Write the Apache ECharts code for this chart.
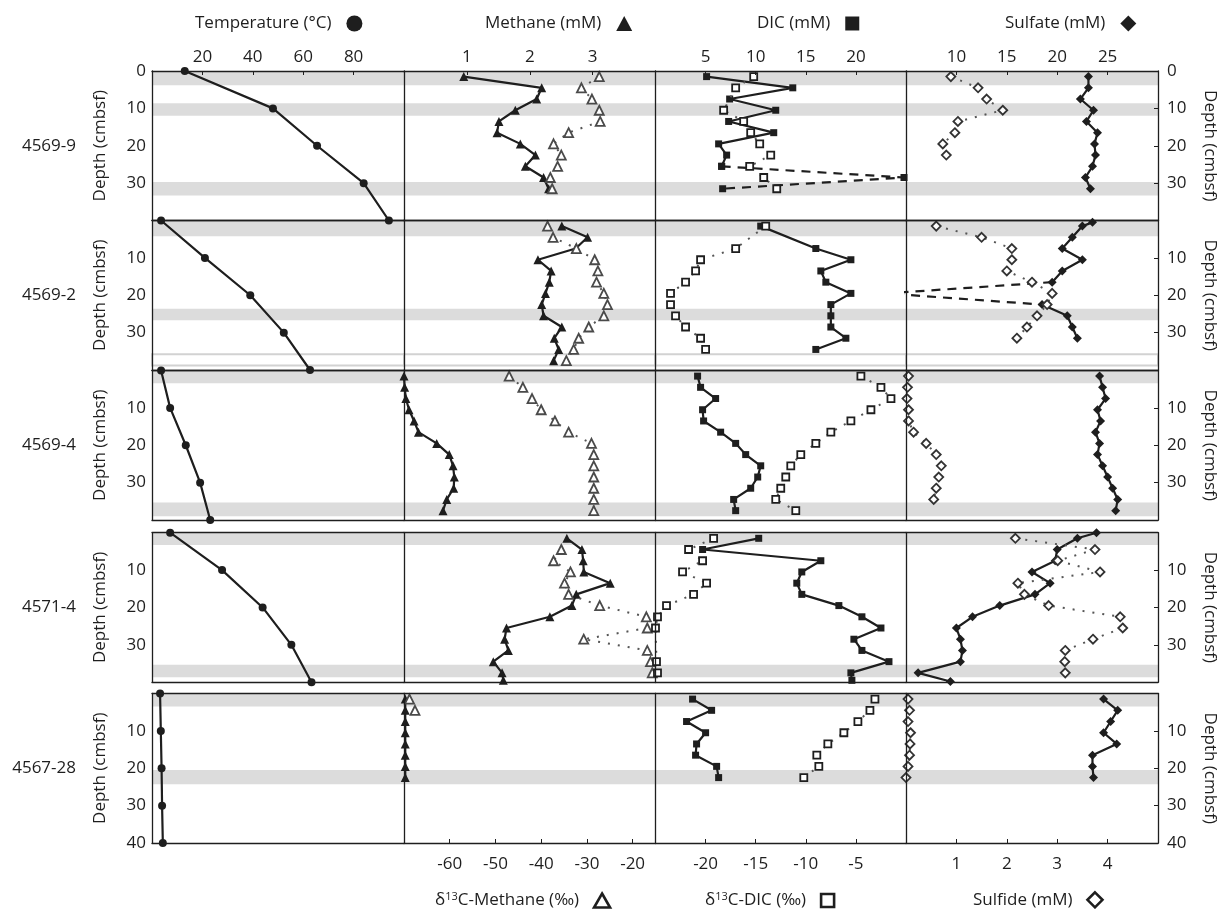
<!DOCTYPE html>
<html>
<head>
<meta charset="utf-8">
<script src="https://cdn.jsdelivr.net/npm/echarts@6/dist/echarts.min.js"></script>
<style>
  html, body { margin: 0; padding: 0; background: #fff; }
  #chart { width: 1225px; height: 909px; }
</style>
</head>
<body>
<div id="chart"></div>
<script>
// Push-core porewater profiles: each row is one core, each column one analyte.
// All profiles are [value, depth (cmbsf)] pairs.
const cores = ['4569-9', '4569-2', '4569-4', '4571-4', '4567-28'];

// Temperature (°C)
const temp_4569_9  = [[13, 0], [48, 10], [65.5, 20], [84, 30], [94, 40]];
const temp_4569_2  = [[3.6, 0], [21, 10], [39, 20], [52.3, 30], [62.7, 40]];
const temp_4569_4  = [[3.6, 0], [7.2, 10], [13.4, 20], [19.1, 30], [23.1, 40]];
const temp_4571_4  = [[7.2, 0], [27.8, 10], [43.9, 20], [55.3, 30], [63.3, 40]];
const temp_4567_28 = [[3.2, 0], [3.5, 10], [3.8, 20], [4.0, 30], [4.3, 40]];

// Methane (mM)
const ch4_4569_9  = [[0.95, 1.5], [2.19, 4.5], [2.11, 7.5], [1.77, 10.5], [1.51, 13.5], [1.48, 16.5], [1.85, 19.5], [2.09, 22.5], [1.93, 25.5], [2.22, 28.5], [2.30, 31.5]];
const ch4_4569_2  = [[2.51, 1.5], [2.92, 4.5], [2.73, 7.5], [2.13, 10.5], [2.34, 13.5], [2.31, 16.5], [2.25, 19.5], [2.19, 22.5], [2.22, 25.5], [2.51, 28.5], [2.39, 31.5], [2.46, 34.5], [2.38, 37.5]];
const ch4_4569_4  = [[0.0, 1.5], [0.01, 4.5], [0.03, 7.5], [0.08, 10.5], [0.16, 13.5], [0.23, 16.5], [0.52, 19.5], [0.72, 22.5], [0.78, 25.5], [0.80, 28.5], [0.79, 31.5], [0.68, 34.5], [0.62, 37.5]];
const ch4_4571_4  = [[2.59, 1.5], [2.83, 4.5], [2.85, 7.5], [2.86, 10.5], [3.28, 13.5], [2.74, 16.5], [2.67, 19.5], [2.32, 22.5], [1.63, 25.5], [1.60, 28.5], [1.66, 31.5], [1.42, 34.5], [1.56, 37.5], [1.58, 39.5]];
const ch4_4567_28 = [[0.02, 1.5], [0.02, 4.5], [0.02, 7.5], [0.02, 10.5], [0.02, 13.5], [0.02, 16.5], [0.02, 19.5], [0.02, 22.5]];

// δ13C-Methane (‰)
const d13ch4_4569_9  = [[-27.3, 1.5], [-31.2, 4.5], [-28.9, 7.5], [-27.3, 10.5], [-27.1, 13.5], [-34.0, 16.5], [-37.3, 19.5], [-35.6, 22.5], [-36.4, 25.5], [-38.0, 28.5], [-37.6, 31.5]];
const d13ch4_4569_2  = [[-38.6, 1.5], [-37.4, 4.5], [-32.3, 7.5], [-28.3, 10.5], [-27.6, 13.5], [-27.9, 16.5], [-26.3, 19.5], [-25.5, 22.5], [-26.3, 25.5], [-29.6, 28.5], [-31.8, 31.5], [-32.9, 34.5], [-34.5, 37.5]];
const d13ch4_4569_4  = [[-47, 1.5], [-44, 4.5], [-42, 7.5], [-40, 10.5], [-37, 13.5], [-34, 16.5], [-29, 19.5], [-28.5, 22.5], [-28.5, 25.5], [-28.5, 28.5], [-28.5, 31.5], [-28.5, 34.5], [-28.5, 37.5]];
const d13ch4_4571_4  = [[-35.6, 4.5], [-37.3, 7.5], [-33.6, 10.5], [-34.9, 13.5], [-34.0, 16.5], [-27.2, 19.5], [-17.0, 22.5], [-16.8, 25.5], [-30.7, 28.5], [-16.8, 31.5], [-16.1, 34.5], [-15.7, 37.5]];
const d13ch4_4567_28 = [[-68.8, 1.5], [-67.6, 4.5]];

// DIC (mM)
const dic_4569_9  = [[5.1, 1.5], [13.7, 4.5], [7.4, 7.5], [12.0, 10.5], [7.3, 13.5], [11.8, 16.5], [6.3, 19.5], [7.1, 22.5], [6.6, 25.5]];
const dic_4569_9_spike = [[6.6, 25.5], [24.8, 28.5], [6.7, 31.5]];
const dic_4569_2  = [[10.5, 1.5], [16, 7.5], [19.5, 10.5], [16.5, 13.5], [17, 16.5], [19.5, 19.5], [17.5, 22.5], [17.5, 25.5], [17.5, 28.5], [19, 31.5], [16, 34.5]];
const dic_4569_4  = [[4.2, 1.5], [4.5, 4.5], [6, 7.5], [4.7, 10.5], [4.8, 13.5], [6.5, 16.5], [8, 19.5], [9, 22.5], [10.5, 25.5], [10.2, 28.5], [9.5, 31.5], [7.8, 34.5], [8, 37.5]];
const dic_4571_4  = [[10.3, 1.5], [4.7, 4.5], [16.5, 7.5], [14.6, 10.5], [14.1, 13.5], [14.6, 16.5], [18.3, 19.5], [20.6, 22.5], [22.5, 25.5], [19.8, 28.5], [20.6, 31.5], [23.3, 34.5], [19.5, 37.5], [19.6, 39.5]];
const dic_4567_28 = [[3.7, 1.5], [5.6, 4.5], [3.1, 7.5], [5.0, 10.5], [4.1, 13.5], [4.0, 16.5], [6.1, 19.5], [6.3, 22.5]];

// δ13C-DIC (‰)
const d13dic_4569_9  = [[-15.2, 1.5], [-17.0, 4.5], [-18.2, 10.5], [-16.2, 13.5], [-15.5, 16.5], [-14.6, 19.5], [-13.5, 22.5], [-15.6, 25.5], [-14.2, 28.5], [-12.9, 31.5]];
const d13dic_4569_2  = [[-14, 1.5], [-17, 7.5], [-20.5, 10.5], [-21, 13.5], [-22, 16.5], [-23.5, 19.5], [-23.5, 22.5], [-23, 25.5], [-22, 28.5], [-20.5, 31.5], [-20, 34.5]];
const d13dic_4569_4  = [[-4.5, 1.5], [-2.5, 4.5], [-1.5, 7.5], [-3.5, 10.5], [-5.5, 13.5], [-7.5, 16.5], [-9, 19.5], [-10.5, 22.5], [-11.5, 25.5], [-12, 28.5], [-12.5, 31.5], [-13, 34.5], [-11, 37.5]];
const d13dic_4571_4  = [[-19.2, 1.5], [-21.7, 4.5], [-20.3, 7.5], [-22.3, 10.5], [-19.9, 13.5], [-21.2, 16.5], [-23.9, 19.5], [-24.8, 22.5], [-25.0, 25.5], [-24.9, 34.5], [-24.8, 37.5]];
const d13dic_4567_28 = [[-3.1, 1.5], [-3.6, 4.5], [-4.8, 7.5], [-6.2, 10.5], [-7.8, 13.5], [-8.9, 16.5], [-8.7, 19.5], [-10.2, 22.5]];

// Sulfate (mM)
const so4_4569_9  = [[23.1, 1.5], [23.1, 4.5], [22.3, 7.5], [23.6, 10.5], [22.9, 13.5], [24.0, 16.5], [23.7, 19.5], [23.8, 22.5], [23.5, 25.5], [22.8, 28.5], [23.3, 31.5]];
const so4_4569_2  = [[23.5, 0.5], [22.5, 1.5], [21.5, 4.5], [20.5, 7.5], [22.5, 10.5], [20.5, 13.5], [19.5, 16.5]];
const so4_4569_2_drop = [[19.5, 16.5], [3, 19.5], [18.5, 22.5]];
const so4_4569_2_deep = [[18.5, 22.5], [21, 25.5], [21.5, 28.5], [22, 31.5]];
const so4_4569_4  = [[24.2, 1.5], [24.5, 4.5], [24.8, 7.5], [24, 10.5], [24.3, 13.5], [23.8, 16.5], [24.2, 19.5], [24, 22.5], [24.5, 25.5], [25, 28.5], [25.5, 31.5], [26, 34.5], [25.8, 37.5]];
const so4_4571_4  = [[23.9, 0], [22.0, 1.5], [20.0, 4.5], [19.8, 7.5], [17.5, 10.5], [19.3, 13.5], [17.8, 16.5], [14.3, 19.5], [11.6, 22.5], [10.0, 25.5], [10.4, 28.5], [10.6, 31.5], [10.4, 34.5], [6.2, 37.5], [9.4, 39.8]];
const so4_4567_28 = [[24.6, 1.5], [26.0, 4.5], [25.3, 7.5], [24.6, 10.5], [25.9, 13.5], [23.5, 16.5], [23.5, 19.5], [23.6, 22.5]];

// Sulfide (mM)
const hs_4569_9  = [[0.89, 1.5], [1.43, 4.5], [1.60, 7.5], [1.92, 10.5], [1.03, 13.5], [0.97, 16.5], [0.73, 19.5], [0.80, 22.5]];
const hs_4569_2  = [[0.6, 1.5], [1.5, 4.5], [2.1, 7.5], [2.1, 10.5], [2.0, 13.5], [2.5, 16.5], [2.9, 19.5], [2.8, 22.5], [2.6, 25.5], [2.4, 28.5], [2.2, 31.5]];
const hs_4569_4  = [[0.05, 1.5], [0.03, 4.5], [0.02, 7.5], [0.05, 10.5], [0.05, 13.5], [0.15, 16.5], [0.4, 19.5], [0.6, 22.5], [0.7, 25.5], [0.65, 28.5], [0.6, 31.5], [0.55, 34.5]];
const hs_4571_4  = [[2.17, 1.5], [3.75, 4.5], [3.01, 7.5], [3.85, 10.5], [2.22, 13.5], [2.35, 16.5], [2.83, 19.5], [4.25, 22.5], [4.30, 25.5], [3.71, 28.5], [3.16, 31.5], [3.15, 34.5], [3.16, 37.5]];
const hs_4567_28 = [[0.04, 1.5], [0.07, 4.5], [0.04, 7.5], [0.09, 10.5], [0.08, 13.5], [0.07, 16.5], [0.04, 19.5], [0.0, 22.5]];

// Shaded depth intervals per core; the hollow one is drawn as an outlined box
const bands = [
  [[0, 3.8], [8.6, 12], [29.7, 33.3]],
  [[0, 4.2], [23.6, 26.7]],
  [[0, 3.4], [35.3, 39]],
  [[0, 3.3], [35.3, 38.7]],
  [[0, 3.5], [20.5, 24.3]]
];
const hollowBands = [[], [[35.8, 38.8]], [], [], []];

// ---------- layout ----------
const rowTop = [71, 220.5, 370.5, 532.7, 693.5];
const rowH = 149.5;
const colEdge = [152, 404, 655.5, 906, 1158];

const FONT = 'Open Sans';
const INK = '#1e1e1e';
const FS = 17;

// top (solid profile) and bottom (open-symbol profile) scales per column
const colScales = [
  { top: { min: 0, max: 100, interval: 20 }, bottom: { min: 0, max: 100, interval: 20 } },
  { top: { min: 0, max: 4, interval: 1 },    bottom: { min: -70, max: -15, interval: 10 } },
  { top: { min: 0, max: 25, interval: 5 },   bottom: { min: -25, max: 0, interval: 5 } },
  { top: { min: 5, max: 30, interval: 5 },   bottom: { min: 0, max: 5, interval: 1 } }
];

const names = {
  temp: 'Temperature (°C)', ch4: 'Methane (mM)', dic: 'DIC (mM)', so4: 'Sulfate (mM)',
  d13ch4: 'δ13C-Methane (‰)', d13dic: 'δ13C-DIC (‰)', hs: 'Sulfide (mM)'
};

const grid = [], xAxis = [], yAxis = [], series = [];
const gIdx = (r, c) => r * 4 + c;

for (let r = 0; r < 5; r++) {
  for (let c = 0; c < 4; c++) {
    const g = gIdx(r, c);
    grid.push({
      left: colEdge[c], top: rowTop[r],
      width: colEdge[c + 1] - colEdge[c], height: rowH,
      containLabel: false, show: false
    });
    const mk = (pos, sc, showLab) => ({
      type: 'value', gridIndex: g, position: pos,
      min: sc.min, max: sc.max, interval: sc.interval, z: 10,
      axisLine: { show: true, onZero: false, lineStyle: { color: INK, width: 1.3 } },
      axisTick: { show: showLab, inside: true, length: 4, lineStyle: { color: INK, width: 1 } },
      axisLabel: { show: showLab, showMinLabel: false, showMaxLabel: false,
                   margin: pos === 'top' ? 5 : 13,
                   color: INK, fontFamily: FONT, fontSize: FS },
      splitLine: { show: false }
    });
    // the temperature column has no lower scale
    xAxis.push(mk('top', colScales[c].top, r === 0));
    xAxis.push(mk('bottom', colScales[c].bottom, r === 4 && c > 0));

    yAxis.push({
      type: 'value', gridIndex: g, position: 'left', inverse: true,
      min: 0, max: 40, interval: 10, z: 10,
      axisLine: { show: true, onZero: false, lineStyle: { color: INK, width: 1.3 } },
      axisTick: { show: false },
      axisLabel: { show: c === 0, showMinLabel: r === 0, showMaxLabel: r === 4, margin: 6,
                   color: INK, fontFamily: FONT, fontSize: FS },
      splitLine: { show: false },
      name: c === 0 ? 'Depth (cmbsf)' : '', nameLocation: 'middle', nameGap: 43, nameRotate: 90,
      nameTextStyle: { color: INK, fontFamily: FONT, fontSize: FS }
    });

    // shaded intervals
    const areas = bands[r].map(b => [{ yAxis: b[0] }, { yAxis: b[1] }]);
    hollowBands[r].forEach(b => areas.push([
      { yAxis: b[0], itemStyle: { color: '#ffffff', borderColor: '#d2d2d2', borderWidth: 2 } },
      { yAxis: b[1] }
    ]));
    series.push({
      type: 'line', xAxisIndex: g * 2, yAxisIndex: g, data: [], silent: true, z: 1,
      markArea: { silent: true, itemStyle: { color: '#dcdcdc' }, data: areas }
    });
  }
}
// right-hand depth axes on the last column (appended after the 20 left axes)
for (let r = 0; r < 5; r++) {
  yAxis.push({
    type: 'value', gridIndex: gIdx(r, 3), position: 'right', inverse: true,
    min: 0, max: 40, interval: 10, z: 10,
    axisLine: { show: true, onZero: false, lineStyle: { color: INK, width: 1.3 } },
    axisTick: { show: true, inside: true, length: 4, lineStyle: { color: INK } },
    axisLabel: { show: true, showMinLabel: r === 0, showMaxLabel: r === 4, margin: 9,
                 color: INK, fontFamily: FONT, fontSize: FS },
    splitLine: { show: false },
    name: 'Depth (cmbsf)', nameLocation: 'middle', nameGap: 43, nameRotate: -90,
    nameTextStyle: { color: INK, fontFamily: FONT, fontSize: FS }
  });
}

function solid(r, c, name, data, symbol, size, dashed) {
  const g = gIdx(r, c);
  series.push({
    type: 'line', name, xAxisIndex: g * 2, yAxisIndex: g, data, z: 3,
    symbol, symbolSize: size, showSymbol: true, clip: true, animation: false,
    itemStyle: { color: INK },
    lineStyle: { color: INK, width: 2.2, type: dashed ? [9, 7] : 'solid' }
  });
}
function open(r, c, name, data, symbol, size, edge) {
  const g = gIdx(r, c);
  series.push({
    type: 'line', name, xAxisIndex: g * 2 + 1, yAxisIndex: g, data, z: 4,
    symbol, symbolSize: size, showSymbol: true, clip: true, animation: false,
    itemStyle: { color: '#ffffff', borderColor: edge, borderWidth: 1.8 },
    lineStyle: { color: '#555', width: 2, type: [2, 8] }
  });
}

const temps = [temp_4569_9, temp_4569_2, temp_4569_4, temp_4571_4, temp_4567_28];
const ch4s = [ch4_4569_9, ch4_4569_2, ch4_4569_4, ch4_4571_4, ch4_4567_28];
const d13ch4s = [d13ch4_4569_9, d13ch4_4569_2, d13ch4_4569_4, d13ch4_4571_4, d13ch4_4567_28];
const dics = [dic_4569_9, dic_4569_2, dic_4569_4, dic_4571_4, dic_4567_28];
const d13dics = [d13dic_4569_9, d13dic_4569_2, d13dic_4569_4, d13dic_4571_4, d13dic_4567_28];
const so4s = [so4_4569_9, so4_4569_2, so4_4569_4, so4_4571_4, so4_4567_28];
const hss = [hs_4569_9, hs_4569_2, hs_4569_4, hs_4571_4, hs_4567_28];

for (let r = 0; r < 5; r++) {
  solid(r, 0, names.temp, temps[r], 'circle', 8);
  solid(r, 1, names.ch4, ch4s[r], 'triangle', 9);
  open(r, 1, names.d13ch4, d13ch4s[r], 'triangle', 9, '#4a4a4a');
  solid(r, 2, names.dic, dics[r], 'rect', 7);
  open(r, 2, names.d13dic, d13dics[r], 'rect', 7, INK);
  solid(r, 3, names.so4, so4s[r], 'diamond', 9);
  open(r, 3, names.hs, hss[r], 'diamond', 9, '#333');
}
// off-scale excursions drawn with dashed connectors
solid(0, 2, names.dic, dic_4569_9_spike, 'rect', 7, true);
solid(1, 3, names.so4, so4_4569_2_drop, 'none', 1, true);
solid(1, 3, names.so4, so4_4569_2_deep, 'diamond', 9);

// ---------- legends (icon to the right of the label) ----------
const richText = {
  t: { fontFamily: FONT, fontSize: FS, color: INK, padding: [0, 10, 0, 0] },
  a: { fontFamily: FONT, fontSize: FS, color: INK },
  s: { fontFamily: FONT, fontSize: 11, color: INK, verticalAlign: 'top', padding: [0, 0, 8, 0] }
};
function fmt(name) {
  if (name.startsWith('δ13C')) return '{a|δ}{s|13}{t|' + name.slice(3) + '}';
  return '{t|' + name + '}';
}
function legendAt(left, top, name, icon, filled, w, h) {
  return {
    left, top, align: 'right', orient: 'horizontal', selectedMode: false,
    itemWidth: w, itemHeight: h, formatter: fmt,
    textStyle: { rich: richText },
    data: [{
      name, icon,
      itemStyle: filled ? { color: INK, borderWidth: 0 }
                        : { color: '#ffffff', borderColor: INK, borderWidth: 2.6 }
    }]
  };
}
const legend = [
  legendAt(190, 10, names.temp, 'circle', true, 16, 16),
  legendAt(480, 10, names.ch4, 'triangle', true, 16, 15),
  legendAt(752, 10, names.dic, 'rect', true, 14, 14),
  legendAt(1000, 10, names.so4, 'diamond', true, 16, 16),
  legendAt(430, 886, names.d13ch4, 'triangle', false, 16, 14),
  legendAt(700, 886, names.d13dic, 'rect', false, 13, 13),
  legendAt(968, 886, names.hs, 'diamond', false, 15, 15)
];

const graphic = cores.map((name, r) => ({
  type: 'text', x: 76, y: rowTop[r] + rowH / 2,
  style: { text: name, fill: INK, fontFamily: FONT, fontSize: FS, align: 'right', verticalAlign: 'middle' }
}));

const chart = echarts.init(document.getElementById('chart'), null, { renderer: 'canvas' });
chart.setOption({
  backgroundColor: '#ffffff',
  animation: false,
  textStyle: { fontFamily: FONT },
  grid, xAxis, yAxis, series, legend, graphic
});
</script>
</body>
</html>
